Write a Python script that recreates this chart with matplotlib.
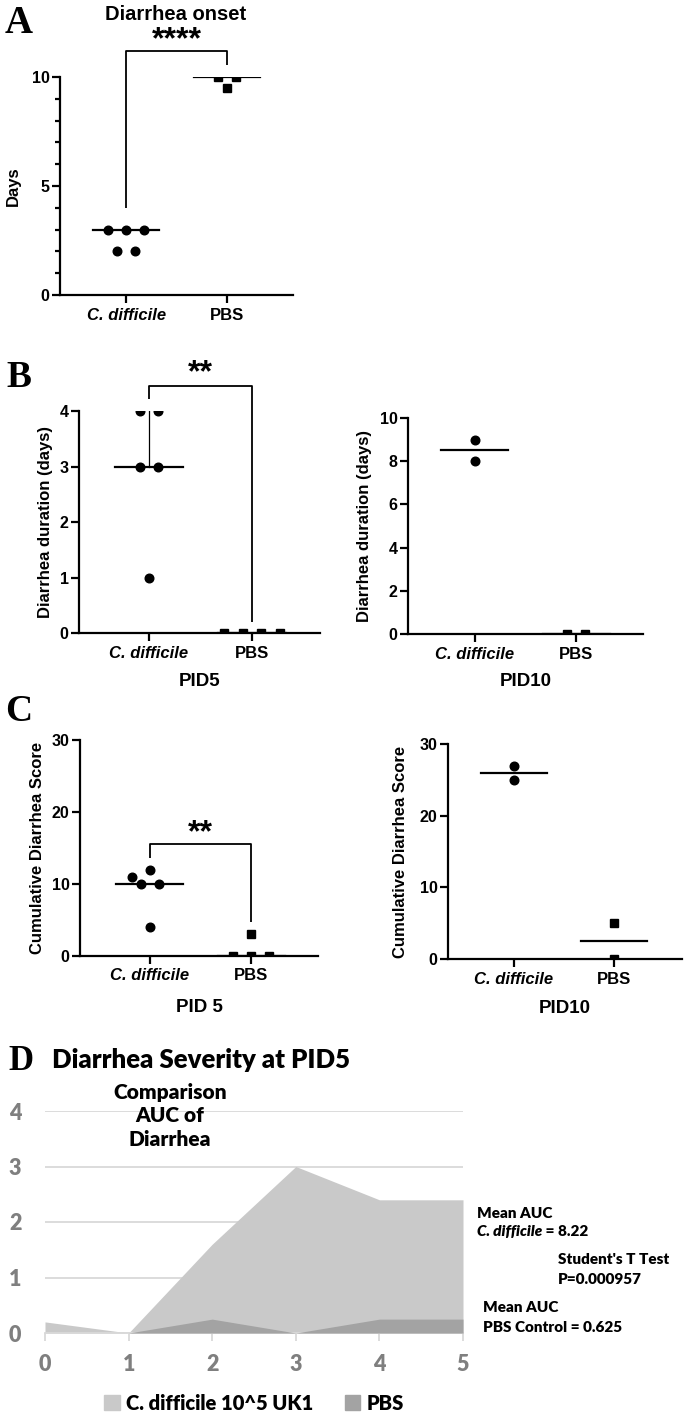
import numpy as np
import matplotlib.pyplot as plt
from matplotlib.patches import Patch

plt.rcParams['font.family'] = ['Liberation Sans', 'DejaVu Sans']
plt.rcParams['font.weight'] = 'bold'
plt.rcParams['axes.labelweight'] = 'bold'

groups = ['C. difficile', 'PBS']

# A - diarrhea onset (days)
onset_cdiff = [3, 3, 3, 2, 2]
onset_pbs = [10, 10, 9.5]

# B - diarrhea duration (days)
dur5_cdiff = [4, 4, 3, 3, 1]
dur5_pbs = [0, 0, 0, 0]
dur10_cdiff = [9, 8]
dur10_pbs = [0, 0]

# C - cumulative diarrhea score
score5_cdiff = [12, 11, 10, 10, 4]
score5_pbs = [3, 0, 0, 0]
score10_cdiff = [27, 25]
score10_pbs = [5, 0]

# D - severity over days
days = [0, 1, 2, 3, 4, 5]
severity_cdiff = [0.2, 0, 1.6, 3.0, 2.4, 2.4]
severity_pbs = [0, 0, 0.25, 0, 0.25, 0.25]
legend_labels = ['C. difficile 10^5 UK1', 'PBS']

W, H = 685, 1414
fig = plt.figure(figsize=(W / 100, H / 100), dpi=100)


def box(l, r, t, b):
    return [l / W, 1 - b / H, (r - l) / W, (b - t) / H]


def ftext(x, y, s, **kw):
    return fig.text(x / W, 1 - y / H, s, **kw)


def spread(ax, center, vals, step=0.18, diam=8.5):
    # column scatter: ties side by side, then nudge points that still overlap
    vals = np.asarray(vals, float)
    off = np.zeros(len(vals))
    for v in np.unique(vals):
        idx = np.where(vals == v)[0]
        off[idx] = (np.arange(len(idx)) - (len(idx) - 1) / 2) * step
    placed = []
    for i, v in enumerate(vals):
        for extra in [0, -step, step, -2 * step, 2 * step]:
            p = ax.transData.transform((center + off[i] + extra, v))
            if all(np.hypot(*(p - q)) >= diam for q in placed):
                off[i] += extra
                break
        placed.append(ax.transData.transform((center + off[i], v)))
    return center + off


def dot_panel(rect, a, b, ymax, yticks, ylabel, lab_x, xlabel=None, xlab_y=None,
              xlim=(-0.66, 1.66), minor=False, iqr=False):
    ax = fig.add_axes(rect)
    ax.set_xlim(*xlim)
    ax.set_ylim(0, ymax)
    for i, (vals, mk, ms) in enumerate([(a, 'o', 6.2), (b, 's', 5.8)]):
        ax.plot(spread(ax, i, vals), vals, ls='none', marker=mk, ms=ms,
                color='black', zorder=3)
        m = np.median(vals)
        ax.plot([i - 0.33, i + 0.33], [m, m], color='black', lw=1.6, zorder=2)
        if iqr and i == 0:
            q1, q3 = np.percentile(vals, [25, 75])
            ax.plot([i, i], [q1, q3], color='black', lw=0.9, zorder=2)
    ax.spines[['top', 'right']].set_visible(False)
    for s in ['left', 'bottom']:
        ax.spines[s].set_linewidth(1.6)
        ax.spines[s].set_zorder(4)
    ax.set_xticks([0, 1], groups)
    ax.get_xticklabels()[0].set_style('italic')
    ax.set_yticks(yticks)
    if minor:
        ax.set_yticks(np.arange(0, ymax + 1, 1), minor=True)
    ax.tick_params(axis='x', width=1.6, length=6, labelsize=12, pad=3)
    ax.tick_params(axis='y', width=1.6, length=6, labelsize=11.5, pad=1.5)
    ax.tick_params(axis='y', which='minor', width=1.6, length=3.5)
    ax.set_ylabel(ylabel, fontsize=12)
    ax.yaxis.set_label_coords(lab_x, 0.5)
    if xlabel:
        ax.set_xlabel(xlabel, fontsize=13.5)
        ax.xaxis.set_label_coords(0.5, xlab_y)
    return ax


def bracket(ax, y_left, y_top, y_right, stars, star_y):
    ax.plot([0, 0, 1, 1], [y_left, y_top, y_top, y_right], color='black',
            lw=1.3, clip_on=False, solid_capstyle='butt')
    ax.text(0.5, star_y, stars, ha='center', va='baseline', fontsize=23,
            clip_on=False)


# panel letters
for letter, x, y, size in [('A', 19, 33, 28), ('B', 19, 387, 27),
                           ('C', 19, 721, 27), ('D', 21, 1070, 25)]:
    ftext(x, y, letter, family='Liberation Serif', fontsize=size,
          ha='center', va='baseline', weight='bold')

# A
axa = dot_panel(box(60, 293, 77, 295), onset_cdiff, onset_pbs, 10, [0, 5, 10],
                'Days', -0.17, minor=True)
bracket(axa, 4.0, 11.2, 10.55, '****', 11.3)
ftext(176, 14, 'Diarrhea onset', fontsize=14.5, ha='center', va='center')

# B
axb1 = dot_panel(box(79, 320, 411, 633), dur5_cdiff, dur5_pbs, 4, range(5),
                 'Diarrhea duration (days)', -0.108, 'PID5', -0.18,
                 xlim=(-0.68, 1.66), iqr=True)
bracket(axb1, 4.22, 4.45, 0.2, '**', 4.53)
dot_panel(box(408, 643, 418, 634), dur10_cdiff, dur10_pbs, 10, range(0, 11, 2),
          'Diarrhea duration (days)', -0.153, 'PID10', -0.18)

# C
axc1 = dot_panel(box(80, 318, 740, 956), score5_cdiff, score5_pbs, 30,
                 range(0, 31, 10), 'Cumulative Diarrhea Score', -0.147,
                 'PID 5', -0.2, xlim=(-0.69, 1.66))
bracket(axc1, 13.6, 15.6, 4.7, '**', 15.9)
dot_panel(box(448, 682, 744, 959), score10_cdiff, score10_pbs, 30,
          range(0, 31, 10), 'Cumulative Diarrhea Score', -0.171,
          'PID10', -0.19, xlim=(-0.66, 1.68))

# D
axd = fig.add_axes(box(45, 463, 1111, 1333))
axd.fill_between(days, severity_cdiff, color='#c9c9c9', lw=0, zorder=2)
axd.fill_between(days, severity_pbs, color='#a3a3a3', lw=0, zorder=3)
axd.set_xlim(0, 5)
axd.set_ylim(0, 4)
axd.set_xticks(days)
axd.set_yticks(range(5))
axd.set_axisbelow(True)
axd.grid(axis='y', color='#d9d9d9', lw=1.3)
for s in ['top', 'right', 'left']:
    axd.spines[s].set_visible(False)
axd.spines['bottom'].set_color('#d9d9d9')
axd.spines['bottom'].set_linewidth(1.3)
axd.tick_params(axis='x', length=6, width=1.3, color='#d9d9d9',
                labelcolor='#7f7f7f', labelsize=15.5, pad=9)
axd.tick_params(axis='y', length=0, labelcolor='#7f7f7f', labelsize=15.5, pad=17)
for lbl in axd.get_xticklabels() + axd.get_yticklabels():
    lbl.set_family('Lato')
    lbl.set_weight('heavy')

ftext(52, 1068, 'Diarrhea Severity at PID5', family='Lato', fontsize=18.5,
      ha='left', va='baseline', weight='heavy')
ftext(170, 1116, 'Comparison\nAUC of\nDiarrhea', family='Lato', fontsize=15,
      ha='center', va='center', linespacing=1.3, weight='heavy')

tk = dict(family='Lato', fontsize=11, va='center', weight='heavy')
ftext(477, 1213, 'Mean AUC', **tk)
t2 = ftext(477, 1232, 'C. difficile', style='italic', **tk)
axd.annotate(' = 8.22', xy=(1, 0.5), xycoords=t2, ha='left', **tk)
ftext(558, 1260, "Student's T Test", **tk)
ftext(558, 1279, 'P=0.000957', **tk)
ftext(483, 1308, 'Mean AUC', **tk)
ftext(483, 1327, 'PBS Control = 0.625', **tk)

handles = [Patch(color='#c9c9c9'), Patch(color='#a3a3a3')]
axd.legend(handles, legend_labels, loc='center', ncol=2, frameon=False,
           bbox_to_anchor=(254 / W, 1 - 1403 / H), bbox_transform=fig.transFigure,
           prop={'family': 'Lato', 'size': 14.5, 'weight': 'heavy'},
           handlelength=0.75, handleheight=0.75, handletextpad=0.3,
           columnspacing=1.6)

fig.savefig('out.png', dpi=100)
